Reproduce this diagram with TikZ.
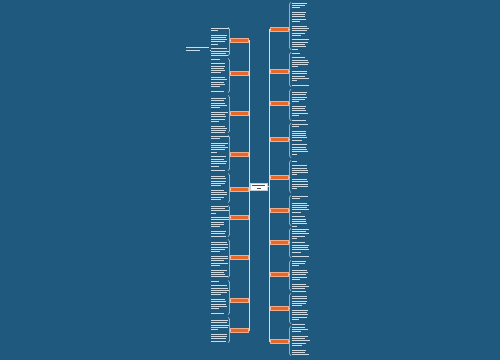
\documentclass[tikz,border=0pt]{standalone}
\definecolor{bg}{RGB}{31,90,126}
\definecolor{org}{RGB}{232,104,42}
\tikzset{
  branch/.style={fill=org, draw=org!55!white, line width=0.3pt, minimum width=18pt, minimum height=3.6pt, inner sep=0pt},
  link/.style={draw=white!80!bg, line width=0.5pt},
  txt/.style={draw=white!78!bg, line width=0.7pt},
  centre/.style={fill=white, draw=white!70!bg, line width=0.3pt, minimum width=17pt, minimum height=7pt, inner sep=0pt}
}
\newcommand{\leafblock}[3]{% x-left, top, bottom
  \pgfmathsetmacro{\nl}{int(floor((#3-#2-1)/2.3))}
  \foreach \k in {0,...,\nl}{
    \pgfmathsetmacro{\yy}{#2+1+\k*2.3}
    \pgfmathsetmacro{\kk}{int(mod(\k+int(#2),6))}
    \ifnum\kk=5\relax
    \else
      \pgfmathsetmacro{\len}{\kk==4 ? 5+6*rnd : 13+5*rnd}
      \draw[txt] (#1,\yy) -- ++(\len,0);
    \fi
  }
}
\begin{document}
\begin{tikzpicture}[x=1pt,y=-1pt]
\fill[bg] (0,0) rectangle (500,360);
\useasboundingbox (0,0) rectangle (500,360);
\pgfmathsetseed{11}
% centre
\node[centre] (c) at (258.5,186.5) {};
\draw[black!70, line width=0.6pt] (252,185) -- (265,185);
\draw[black!70, line width=0.6pt] (257,188.3) -- (261,188.3);
% left branches
\foreach \y/\t/\b [count=\i] in {40/27/56, 73/58/93, 113/95/133, 154/135/171, 189/173/203, 217/205/237, 257/239/278, 300/280/315, 330/317/343}{
  \node[branch] (L\i) at (239.5,\y) {};
  \draw[link] (c.west) -- (249,186.5) |- (L\i.east);
  \coordinate (LB\i) at (229.5,\y);
  \draw[link] (L\i.west) -- (LB\i);
  \draw[link, rounded corners=1pt] (228,\t+0.5) -- (229.5,\t+1.5) -- (229.5,\b-1.5) -- (228,\b-0.5);
  \leafblock{211}{\t}{\b}
}
% far-left extra node
\coordinate (X) at (211,50);
\draw[link] (209.5,50) -- (X);
\draw[txt] (186,47.5) -- (209,47.5);
\draw[txt] (186,50.5) -- (200,50.5);
% right branches
\foreach \y/\t/\b [count=\i] in {29/2/50, 71/52/87, 103/89/121, 139/123/158, 177/160/193, 210/195/226, 242/228/258, 274/260/291, 308/293/324, 341/326/356}{
  \node[branch] (R\i) at (279.5,\y) {};
  \draw[link] (c.east) -- (269.5,186.5) |- (R\i.west);
  \coordinate (RB\i) at (289.5,\y);
  \draw[link] (R\i.east) -- (RB\i);
  \draw[link, rounded corners=1pt] (291,\t+0.5) -- (289.5,\t+1.5) -- (289.5,\b-1.5) -- (291,\b-0.5);
  \leafblock{291.5}{\t}{\b}
}
\end{tikzpicture}
\end{document}
